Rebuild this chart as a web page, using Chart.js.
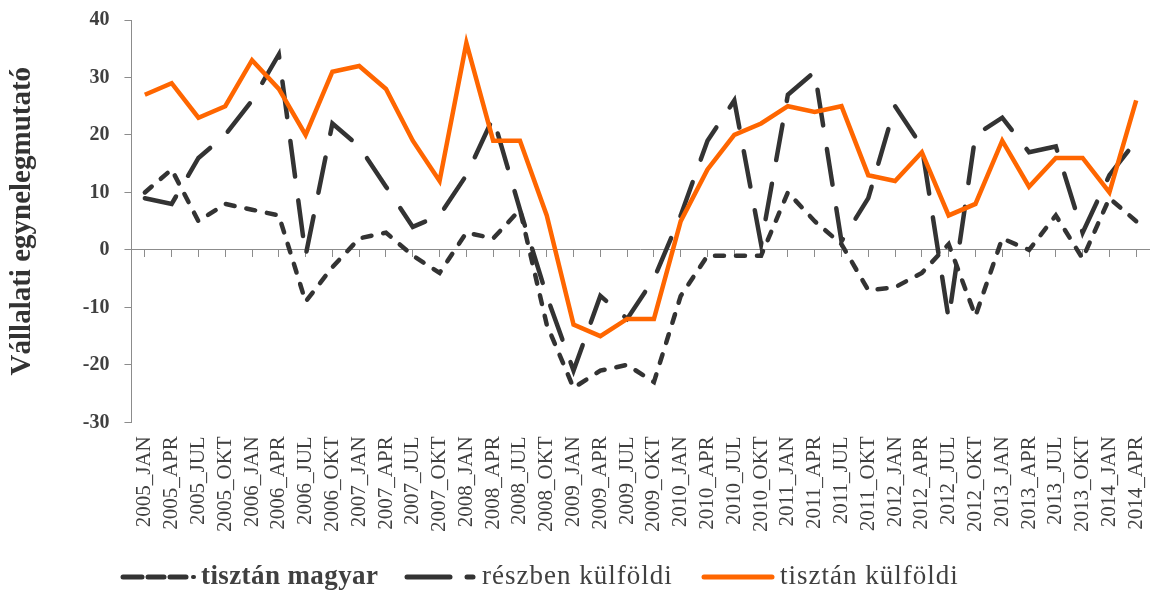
<!DOCTYPE html>
<html>
<head>
<meta charset="utf-8">
<script src="https://cdn.jsdelivr.net/npm/chart.js@4.4.1/dist/chart.umd.min.js"></script>
<style>
  body { margin: 0; background: #fff; }
  #wrap { position: relative; width: 1153px; height: 597px; overflow: hidden; }
  #chartBox { position: absolute; left: 0; top: 0; width: 1153px; height: 573px; }
  .lg-txt { position: absolute; top: 558px; line-height: 34px; font-family: 'Liberation Serif', serif; font-size: 27px; color: #404040; white-space: nowrap; letter-spacing: 1px; }
  .lg-ikon { position: absolute; top: 572px; }
</style>
</head>
<body>
<div id="wrap">
  <div id="chartBox"><canvas id="grafikon"></canvas></div>

  <svg class="lg-ikon" style="left:118px" width="84" height="10">
    <line x1="5" y1="5" x2="24" y2="5" stroke="#333" stroke-width="5" stroke-linecap="round"/>
    <line x1="30" y1="5" x2="46" y2="5" stroke="#333" stroke-width="5" stroke-linecap="round"/>
    <line x1="52" y1="5" x2="68" y2="5" stroke="#333" stroke-width="5" stroke-linecap="round"/>
    <line x1="75" y1="5" x2="76" y2="5" stroke="#333" stroke-width="4" stroke-linecap="round"/>
  </svg>
  <span class="lg-txt" style="left:201px; font-weight:bold; letter-spacing:0.4px">tisztán magyar</span>

  <svg class="lg-ikon" style="left:400px" width="80" height="10">
    <line x1="7" y1="5" x2="50" y2="5" stroke="#333" stroke-width="5" stroke-linecap="round"/>
    <line x1="67" y1="5" x2="73" y2="5" stroke="#333" stroke-width="5" stroke-linecap="round"/>
  </svg>
  <span class="lg-txt" style="left:482px">részben külföldi</span>

  <svg class="lg-ikon" style="left:698px" width="80" height="10">
    <line x1="6" y1="5" x2="74" y2="5" stroke="#ff6600" stroke-width="5" stroke-linecap="round"/>
  </svg>
  <span class="lg-txt" style="left:780px">tisztán külföldi</span>
</div>

<script>
const kategoriak = [
    '2005_JAN', '2005_APR', '2005_JUL', '2005_OKT',
    '2006_JAN', '2006_APR', '2006_JUL', '2006_OKT',
    '2007_JAN', '2007_APR', '2007_JUL', '2007_OKT',
    '2008_JAN', '2008_APR', '2008_JUL', '2008_OKT',
    '2009_JAN', '2009_APR', '2009_JUL', '2009_OKT',
    '2010_JAN', '2010_APR', '2010_JUL', '2010_OKT',
    '2011_JAN', '2011_APR', '2011_JUL', '2011_OKT',
    '2012_JAN', '2012_APR', '2012_JUL', '2012_OKT',
    '2013_JAN', '2013_APR', '2013_JUL', '2013_OKT',
    '2014_JAN', '2014_APR'
];

const tisztanMagyar = [10, 14, 5, 8, 7, 6, -9, -3, 2, 3, -1, -4, 3, 2, 7, -13,
    -24, -21, -20, -23, -8, -1, -1, -1, 10, 5, 1, -7, -6.5, -4, 1, -11.5,
    2, 0, 6, -1.5, 9, 5];

const reszbenKulfoldi = [9, 8, 16, 20, 26, 34, -1, 22, 18, 11, 4, 6, 13, 23, 7, -8,
    -21, -8, -12, -5, 6, 19, 26, 1, 27, 31, 1.5, 9, 25, 18, -12, 20,
    23, 17, 18, 3, 13, 19];

const tisztanKulfoldi = [27, 29, 23, 25, 33, 28, 20, 31, 32, 28, 19, 12, 36, 19, 19, 6,
    -13, -15, -12, -12, 5, 14, 20, 22, 25, 24, 25, 13, 12, 17, 6, 8,
    19, 11, 16, 16, 10, 26];

const yMin = -30, yMax = 40, yLepes = 10;

const sotet = '#333333';
const narancs = '#ff6600';
const tengely = '#8c8c8c';
const betu = "'Liberation Serif', serif";

new Chart(document.getElementById('grafikon'), {
    type: 'line',
    data: {
        labels: kategoriak,
        datasets: [
            { label: 'tisztán magyar', data: tisztanMagyar, borderColor: sotet, borderWidth: 4.5,
              borderDash: [9, 12], borderCapStyle: 'round', pointRadius: 0, tension: 0, order: 2 },
            { label: 'részben külföldi', data: reszbenKulfoldi, borderColor: sotet, borderWidth: 4.5,
              borderDash: [36, 24], borderCapStyle: 'round', pointRadius: 0, tension: 0, order: 1 },
            { label: 'tisztán külföldi', data: tisztanKulfoldi, borderColor: narancs, borderWidth: 4.5,
              pointRadius: 0, tension: 0, order: 0 }
        ]
    },
    options: {
        responsive: true,
        maintainAspectRatio: false,
        animation: false,
        layout: { padding: { left: 0, right: 0, top: 19, bottom: 41 } },
        plugins: { legend: { display: false }, tooltip: { enabled: false } },
        scales: {
            x: {
                type: 'category', offset: true,
                // invisible tick marks keep the labels away from the plot
                grid: { display: true, drawOnChartArea: false, drawTicks: true, tickLength: 14,
                        color: 'rgba(0,0,0,0)' },
                border: { display: false },
                ticks: { autoSkip: false, minRotation: 90, maxRotation: 90, padding: 0,
                         color: '#404040', font: { family: betu, size: 21, lineHeight: 0.8 } }
            },
            x2: {
                type: 'category', position: { y: 0 }, offset: true,
                ticks: { display: false },
                grid: { drawOnChartArea: false, tickLength: 7, color: tengely },
                border: { color: tengely }
            },
            y: {
                min: yMin, max: yMax,
                ticks: { stepSize: yLepes, padding: 15, color: '#404040',
                         font: { family: betu, size: 20, weight: 'bold', lineHeight: 0.5 } },
                grid: { drawOnChartArea: false, tickLength: 7, color: tengely },
                border: { color: tengely },
                title: { display: true, text: 'Vállalati egynelegmutató', color: '#333',
                         font: { family: betu, size: 29, weight: 'bold' },
                         padding: { top: 5, bottom: 28 } }
            }
        }
    }
});
</script>
</body>
</html>
